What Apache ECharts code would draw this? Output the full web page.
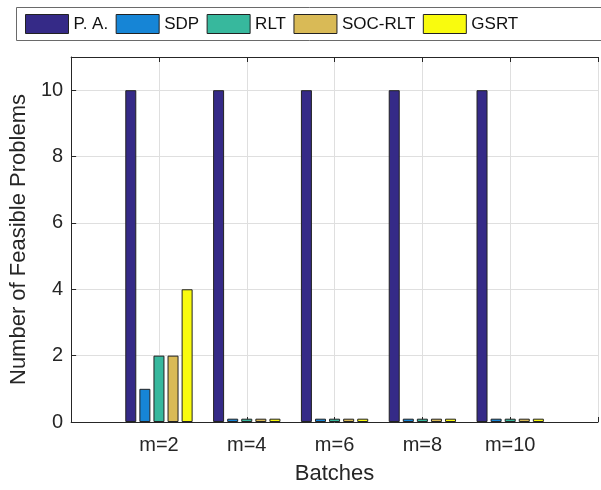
<!DOCTYPE html>
<html>
<head>
<meta charset="utf-8">
<script src="https://cdn.jsdelivr.net/npm/echarts@6/dist/echarts.min.js"></script>
<style>
  html, body { margin: 0; padding: 0; background: #fff; }
  #chart { width: 601px; height: 490px; }
</style>
</head>
<body>
<div id="chart"></div>
<script>
// batches on the x axis
var categories = ['m=2', 'm=4', 'm=6', 'm=8', 'm=10'];
// number of feasible problems per method
var paVals     = [10, 10, 10, 10, 10];
var sdpVals    = [1, 0.1, 0.1, 0.1, 0.1];
var rltVals    = [2, 0.1, 0.1, 0.1, 0.1];
var socRltVals = [2, 0.1, 0.1, 0.1, 0.1];
var gsrtVals   = [4, 0.1, 0.1, 0.1, 0.1];
var yTicks = [0, 2, 4, 6, 8, 10];

var seriesNames = ['P. A.', 'SDP', 'RLT', 'SOC-RLT', 'GSRT'];
var seriesVals = [paVals, sdpVals, rltVals, socRltVals, gsrtVals];
var colors = ['#352a87', '#1685d6', '#37b89d', '#d9ba56', '#f9fb0e'];

var font = 'Liberation Sans, Arial, sans-serif';
var axisColor = '#262626';

function pts(vals) {
    return vals.map(function (v, i) { return [i + 1, v]; });
}

var myChart = echarts.init(document.getElementById('chart'));
var option = {
    animation: false,
    color: colors,
    textStyle: { fontFamily: font },
    graphic: [{
        type: 'rect',
        shape: { x: 16.5, y: 7.5, width: 600, height: 33 },
        style: { fill: '#fff', stroke: '#6a6a6a', lineWidth: 1 },
        z: 0
    }],
    legend: {
        data: seriesNames,
        left: 25,
        top: 14,
        padding: 0,
        itemWidth: 43,
        itemHeight: 19,
        itemGap: 7.5,
        icon: 'rect',
        itemStyle: { borderColor: '#222', borderWidth: 1 },
        textStyle: { fontSize: 17, color: '#111', fontFamily: font },
        z: 5
    },
    grid: {
        left: 68,
        top: 57,
        right: -4,
        bottom: 65,
        containLabel: false
    },
    xAxis: [{
        type: 'value',
        min: 0,
        max: 6,
        interval: 1,
        position: 'bottom',
        name: 'Batches',
        nameLocation: 'middle',
        nameGap: 41,
        nameTextStyle: { fontSize: 22, color: '#262626', fontFamily: font },
        axisLine: { show: true, lineStyle: { color: axisColor, width: 1 } },
        axisTick: { show: true, inside: true, length: 5, lineStyle: { color: axisColor } },
        axisLabel: {
            fontSize: 20,
            color: '#262626',
            margin: 13,
            formatter: function (v) { return categories[v - 1] || ''; }
        },
        splitLine: { show: true, lineStyle: { color: '#dfdfdf', width: 1 } }
    }, {
        type: 'value',
        min: 0,
        max: 6,
        interval: 1,
        position: 'top',
        axisLine: { show: true, lineStyle: { color: axisColor, width: 1 } },
        axisTick: { show: true, inside: true, length: 5, lineStyle: { color: axisColor } },
        axisLabel: { show: false },
        splitLine: { show: false }
    }],
    yAxis: {
        type: 'value',
        min: 0,
        max: 11,
        interval: 2,
        name: 'Number of Feasible Problems',
        nameLocation: 'middle',
        nameGap: 38,
        nameTextStyle: { fontSize: 22, color: '#262626', fontFamily: font },
        axisLine: { show: true, lineStyle: { color: axisColor, width: 1 } },
        axisTick: { show: true, inside: true, length: 5, lineStyle: { color: axisColor } },
        axisLabel: {
            fontSize: 20,
            color: '#262626',
            margin: 8,
            formatter: function (v) { return yTicks.indexOf(v) >= 0 ? String(v) : ''; }
        },
        splitLine: { show: true, lineStyle: { color: '#dfdfdf', width: 1 } }
    },
    series: seriesNames.map(function (name, k) {
        return {
            name: name,
            type: 'bar',
            xAxisIndex: 0,
            barWidth: 11,
            barGap: '28%',
            itemStyle: { color: colors[k], borderColor: '#222', borderWidth: 1 },
            data: pts(seriesVals[k])
        };
    })
};
myChart.setOption(option);
</script>
</body>
</html>
